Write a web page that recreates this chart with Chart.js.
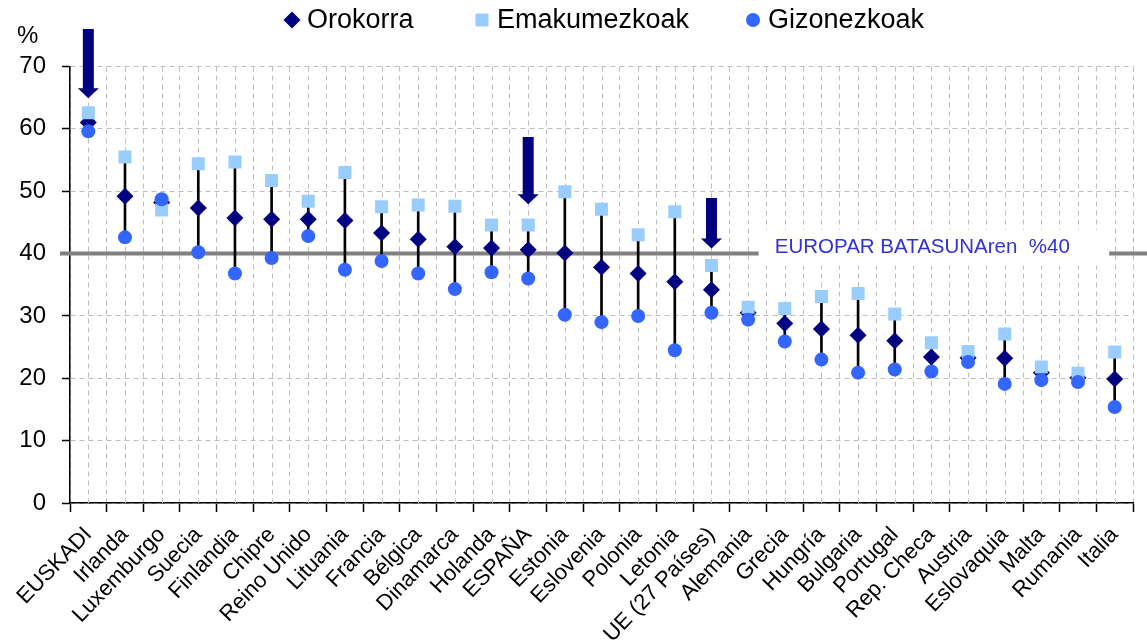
<!DOCTYPE html>
<html>
<head>
<meta charset="utf-8">
<script src="https://cdn.jsdelivr.net/npm/chart.js@4/dist/chart.umd.min.js"></script>
<style>
html,body{margin:0;padding:0;background:#fff}
#wrap{width:1147px;height:644px;position:relative}
</style>
</head>
<body>
<div id="wrap"><canvas id="c"></canvas></div>
<script>
// ---------- DATA ----------
const categories = ['EUSKADI','Irlanda','Luxemburgo','Suecia','Finlandia','Chipre','Reino Unido','Lituania','Francia','Bélgica','Dinamarca','Holanda','ESPAÑA','Estonia','Eslovenia','Polonia','Letonia','UE (27 Países)','Alemania','Grecia','Hungría','Bulgaria','Portugal','Rep. Checa','Austria','Eslovaquia','Malta','Rumania','Italia'];
const orokorra     = [61.0,49.2,48.2,47.3,45.7,45.5,45.5,45.3,43.3,42.3,41.1,40.9,40.6,40.1,37.8,36.8,35.5,34.2,30.5,28.8,27.9,26.9,26.0,23.4,23.3,23.2,20.9,20.1,19.9];
const emakumezkoak = [62.6,55.5,47.0,54.4,54.7,51.7,48.4,53.0,47.5,47.8,47.6,44.6,44.6,49.9,47.1,43.0,46.7,38.1,31.4,31.2,33.1,33.6,30.3,25.7,24.3,27.1,21.8,20.8,24.2];
const gizonezkoak  = [59.6,42.6,48.7,40.2,36.8,39.3,42.8,37.4,38.8,36.8,34.3,37.0,36.0,30.2,29.0,30.0,24.5,30.5,29.4,25.9,23.0,20.9,21.4,21.1,22.6,19.1,19.7,19.4,15.4];
const seriesNames  = ['Orokorra','Emakumezkoak','Gizonezkoak'];
const yTickValues  = [0,10,20,30,40,50,60,70];
const targetValue  = 40;
const targetLabel  = 'EUROPAR BATASUNAren  %40';
const arrowCategories = ['EUSKADI','ESPAÑA','UE (27 Países)'];
const arrowFrom       = [76.0, 58.7, 48.9];
const arrowTo         = [64.9, 47.9, 40.8];
const unitLabel = '%';

// high-low range per category, built from the series
const highLow = categories.map((c,i)=>{
  const v=[orokorra[i],emakumezkoak[i],gizonezkoak[i]];
  return [Math.min(...v), Math.max(...v)];
});

const FONT = '"Liberation Sans", Arial, sans-serif';
const NAVY = '#000080', LIGHT = '#99CCFF', BLUE = '#3366FF';
const GRID = '#BDBDBD';

const extras = {
  id: 'extras',
  beforeDatasetsDraw(chart){
    const {ctx, chartArea:a, scales:{x,y}} = chart;
    ctx.save();
    ctx.strokeStyle = GRID; ctx.lineWidth = 1; ctx.setLineDash([5,4]);
    categories.forEach((c,i)=>{
      const px = Math.round(x.getPixelForValue(i))+0.5;
      ctx.beginPath(); ctx.moveTo(px, a.top); ctx.lineTo(px, a.bottom); ctx.stroke();
    });
    ctx.setLineDash([]);
    const ty = y.getPixelForValue(targetValue);
    ctx.strokeStyle = '#808080'; ctx.lineWidth = 4;
    ctx.beginPath(); ctx.moveTo(a.left-10, ty); ctx.lineTo(chart.width, ty); ctx.stroke();
    const bx1 = x.getPixelForValue(18)+10.5, bx2 = x.getPixelForValue(28)-5.5;
    ctx.fillStyle = '#fff';
    ctx.fillRect(bx1, ty-24, bx2-bx1, 36);
    ctx.fillStyle = '#3232D2';
    ctx.font = '20.5px '+FONT;
    ctx.textBaseline = 'middle'; ctx.textAlign = 'left';
    ctx.fillText(targetLabel, x.getPixelForValue(19)-10, ty-6);
    ctx.restore();
  },
  afterDraw(chart){
    const {ctx, scales:{x,y}} = chart;
    ctx.save();
    ctx.fillStyle = NAVY;
    arrowCategories.forEach((c,k)=>{
      const px = x.getPixelForValue(categories.indexOf(c));
      const y1 = y.getPixelForValue(arrowFrom[k]);
      const y2 = y.getPixelForValue(arrowTo[k]);
      const hl = 10, sw = 5.5, hw = 10.5;
      ctx.beginPath();
      ctx.moveTo(px-sw, y1); ctx.lineTo(px+sw, y1); ctx.lineTo(px+sw, y2-hl);
      ctx.lineTo(px+hw, y2-hl); ctx.lineTo(px, y2); ctx.lineTo(px-hw, y2-hl);
      ctx.lineTo(px-sw, y2-hl); ctx.closePath(); ctx.fill();
    });
    ctx.fillStyle = '#000'; ctx.font = '24px '+FONT;
    ctx.textBaseline = 'middle'; ctx.textAlign = 'left';
    ctx.fillText(unitLabel, 17, 36);
    const ly = 20;
    const mx = [292, 482, 753];
    ctx.font = '27px '+FONT;
    seriesNames.forEach((name,i)=>{
      const cx = mx[i];
      if (i===0){ ctx.fillStyle = NAVY; ctx.beginPath(); ctx.moveTo(cx-8.5,ly); ctx.lineTo(cx,ly-8.5); ctx.lineTo(cx+8.5,ly); ctx.lineTo(cx,ly+8.5); ctx.closePath(); ctx.fill(); }
      if (i===1){ ctx.fillStyle = LIGHT; ctx.fillRect(cx-6.5, ly-6.5, 13, 13); }
      if (i===2){ ctx.fillStyle = BLUE; ctx.beginPath(); ctx.arc(cx, ly, 7, 0, Math.PI*2); ctx.fill(); }
      ctx.fillStyle = '#000';
      ctx.fillText(name, cx+15, ly+1);
    });
    ctx.restore();
  }
};

new Chart(document.getElementById('c'), {
  type: 'line',
  data: {
    labels: categories,
    datasets: [
      { type:'line', label: seriesNames[0], data: orokorra, showLine:false, pointStyle:'rectRot', pointRadius:8.5, pointBackgroundColor:NAVY, pointBorderWidth:0, borderColor:NAVY, order:3 },
      { type:'line', label: seriesNames[1], data: emakumezkoak, showLine:false, pointStyle:'rect', pointRadius:9.2, pointBackgroundColor:LIGHT, pointBorderWidth:0, borderColor:LIGHT, order:2 },
      { type:'line', label: seriesNames[2], data: gizonezkoak, showLine:false, pointStyle:'circle', pointRadius:7, pointBackgroundColor:BLUE, pointBorderWidth:0, borderColor:BLUE, order:1 },
      { type:'bar', label:'range', data: highLow, backgroundColor:'#000', barThickness:2, borderWidth:0, order:4 }
    ]
  },
  options: {
    responsive: true,
    maintainAspectRatio: false,
    animation: false,
    events: [],
    layout: { padding: { top: 66.5, right: 14, bottom: 0, left: 0 } },
    plugins: { legend: { display:false }, tooltip: { enabled:false } },
    scales: {
      x: {
        type: 'category',
        offset: true,
        grid: { offset: true, color: GRID, lineWidth: 1, tickColor:'#000', tickLength: 9, tickWidth: 1.5 },
        border: { display: true, color:'#000', width: 1.5, dash: [5,4] },
        ticks: { autoSkip:false, minRotation:46, maxRotation:46, color:'#000', font:{ family: FONT, size: 22 }, padding: 10 },
        afterFit(s){ s.height = 141; }
      },
      y: {
        min: 0, max: 70,
        afterBuildTicks(s){ s.ticks = yTickValues.map(v=>({value:v})); },
        grid: { color: GRID, lineWidth: 1, tickColor:'#000', tickLength: 8, tickWidth: 1.5 },
        border: { display: true, color:'#000', width: 1.5, dash: [5,4] },
        ticks: { color:'#000', font:{ family: FONT, size: 24 }, padding: 16 },
        afterFit(s){ s.width = 70; }
      }
    }
  },
  plugins: [extras]
});
</script>
</body>
</html>
